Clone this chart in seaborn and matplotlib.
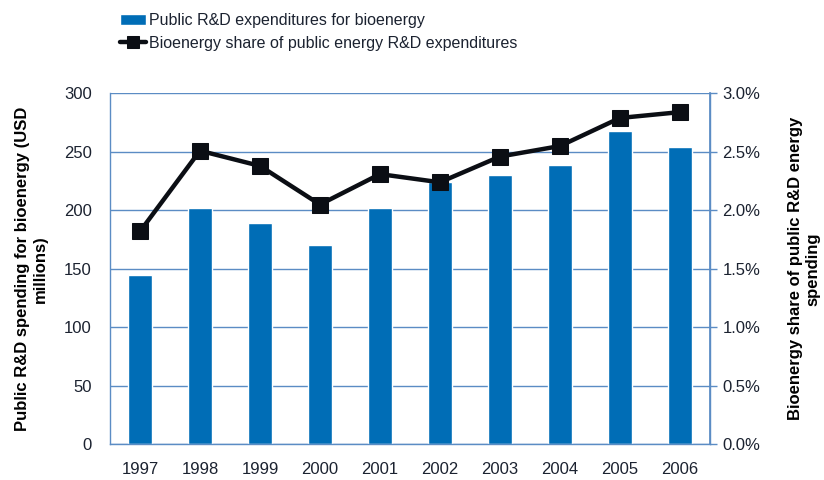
import numpy as np
import pandas as pd
import seaborn as sns
import matplotlib.pyplot as plt
from matplotlib.ticker import PercentFormatter

years = ['1997', '1998', '1999', '2000', '2001', '2002', '2003', '2004', '2005', '2006']
spending = [145, 202, 189, 170, 202, 224, 230, 239, 268, 254]  # USD millions
share = [1.82, 2.51, 2.38, 2.05, 2.31, 2.24, 2.46, 2.55, 2.79, 2.84]  # percent

bar_label = 'Public R&D expenditures for bioenergy'
line_label = 'Bioenergy share of public energy R&D expenditures'

blue = '#006db6'
grid_blue = '#5b8cc4'
txt = '#1b2230'

sns.set_theme(style='white')
plt.rcParams['font.family'] = ['Liberation Sans', 'DejaVu Sans']

df = pd.DataFrame({'year': years, 'spending': spending, 'share': share})

fig = plt.figure(figsize=(8.24, 4.8), dpi=100)
ax = fig.add_axes([0.1335, 0.0744, 0.728, 0.731])

sns.barplot(data=df, x='year', y='spending', color=blue, width=0.4,
            saturation=1, ax=ax, label=bar_label)
if ax.get_legend() is not None:
    ax.get_legend().remove()
ax.set_ylim(0, 300)
ax.set_yticks(range(0, 301, 50))
ax.set_xlim(-0.5, len(years) - 0.5)
ax.yaxis.grid(True, color=grid_blue, linewidth=1)
ax.set_axisbelow(True)
ax.spines['top'].set_visible(False)
for s in ['left', 'bottom', 'right']:
    ax.spines[s].set_color(grid_blue)
    ax.spines[s].set_linewidth(1)
ax.tick_params(axis='y', colors=txt, labelsize=12, length=0, pad=13)
ax.tick_params(axis='x', colors=txt, labelsize=12, length=0, pad=13)
ax.set_xlabel('')
ax.set_ylabel('Public R&D spending for bioenergy (USD\nmillions)', fontsize=12,
              fontweight='bold', color='black', labelpad=12)

ax2 = ax.twinx()
sns.lineplot(x=np.arange(len(years)), y=share, ax=ax2, color='#0b0e14', linewidth=3.2,
             marker='s', markersize=12, markeredgecolor='#0b0e14', label=line_label,
             legend=False)
ax2.set_ylim(0, 3.0)
ax2.set_yticks(np.arange(0, 3.01, 0.5))
ax2.yaxis.set_major_formatter(PercentFormatter(decimals=1))
for s in ['top', 'left', 'bottom']:
    ax2.spines[s].set_visible(False)
ax2.spines['right'].set_color(grid_blue)
ax2.tick_params(axis='y', colors=txt, labelsize=12, length=5, width=1, pad=4)
ax2.tick_params(axis='y', color=grid_blue)
ax2.set_ylabel('Bioenergy share of public R&D energy\nspending', fontsize=12,
               fontweight='bold', color='black', labelpad=20)

h1, l1 = ax.get_legend_handles_labels()
h2, l2 = ax2.get_legend_handles_labels()
leg = fig.legend(h1 + h2, l1 + l2, loc='upper left', bbox_to_anchor=(0.1456, 0.972),
                 frameon=False, borderpad=0, borderaxespad=0,
                 handlelength=1.6, handletextpad=0.2, labelspacing=0.45,
                 prop={'family': 'Liberation Sans', 'size': 11.5})
for t in leg.get_texts():
    t.set_color(txt)
for h in leg.legend_handles:
    if hasattr(h, 'set_markersize'):
        h.set_markersize(8)

fig.savefig('out.png', dpi=100)
